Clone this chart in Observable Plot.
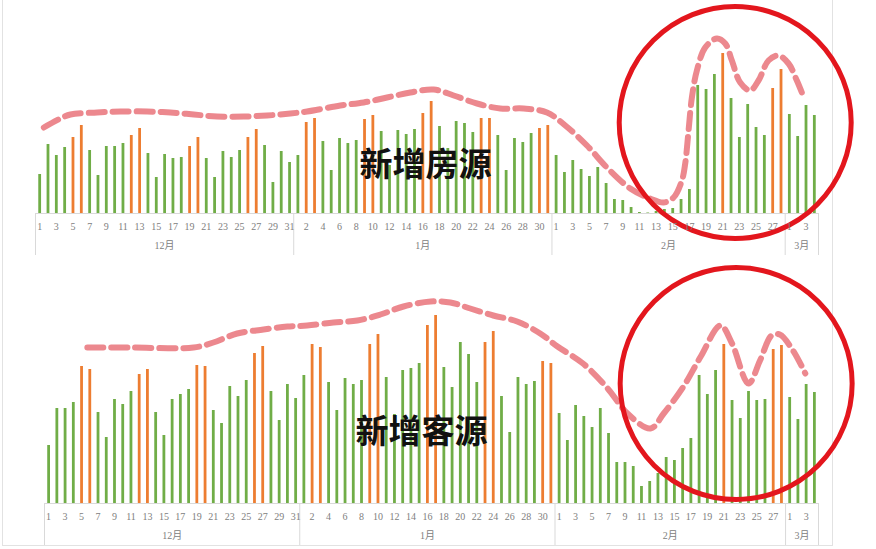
<!DOCTYPE html>
<html><head><meta charset="utf-8">
<script src="https://cdn.jsdelivr.net/npm/d3@7"></script>
<script src="https://cdn.jsdelivr.net/npm/@observablehq/plot@0.6"></script>
<style>
body{margin:0;background:#fff;}
#wrap{position:relative;width:876px;height:549px;overflow:hidden;background:#fff;}
#frame{position:absolute;left:2px;top:-2px;width:831px;height:548px;border:1px solid #e2e2e2;box-sizing:border-box;}
#top,#bottom{position:absolute;left:0;}
#top{top:0}
#bottom{top:265px}
g[aria-label="panel-title"] text{filter:drop-shadow(2px 2px 1.5px rgba(0,0,0,0.45));}
</style></head>
<body><div id="wrap"><div id="frame"></div><div id="top"></div><div id="bottom"></div></div>
<script>
// categories: every day from 1 Dec 2020 to 4 Mar 2021
const startDate = "2020-12-01";
const endDate = "2021-03-04";
const months = ["12月", "1月", "2月", "3月"];
// rest days (orange bars)
const restDays = ["2020-12-05","2020-12-06","2020-12-12","2020-12-13","2020-12-19","2020-12-20","2020-12-26","2020-12-27",
  "2021-01-02","2021-01-03","2021-01-09","2021-01-10","2021-01-16","2021-01-17","2021-01-23","2021-01-24","2021-01-30","2021-01-31",
  "2021-02-21","2021-02-27","2021-02-28"];

// 新增房源 (daily values)
const newListings = [
  39,69,58,66,76,88,63,38,67,67,70,78,85,60,36,59,55,56,67,76,55,36,62,56,63,76,84,68,31,62,51,
  58,91,95,72,43,75,70,73,94,98,82,48,83,79,84,100,112,87,65,92,90,81,95,95,78,43,75,71,80,85,88,
  58,41,53,44,37,46,30,14,13,6,1,0.5,2,4,5,14,24,128,124,139,160,115,76,109,86,78,125,144,
  99,77,108,98];
// 新增客源 (daily values)
const newCustomers = [
  58,95,95,101,137,134,91,66,104,99,112,129,134,91,68,104,109,114,138,137,93,80,117,107,123,150,157,112,83,119,105,
  128,159,156,121,93,125,119,123,159,169,126,89,133,135,140,178,188,136,116,161,149,121,161,172,107,71,126,119,122,142,140,
  90,63,98,87,76,95,70,41,41,37,17,22,30,46,43,55,65,128,109,133,159,103,85,112,103,104,154,158,
  106,84,119,111];

// hand-drawn trend curves (day offset from 1 Dec, value)
const trendListingsDay = [0.5,2.5,3.7,6.9,9.7,12.9,15.7,18.5,21.3,24.5,27.3,30.1,32.1,36.1,38.9,41.7,44.5,47.3,49.7,52.5,55.3,58.1,60.9,63.1,65.7,68.1,70.9,73.3,74.9,76.1,77.1,77.5,77.9,78.3,78.9,79.9,81.3,82.3,83.1,84.1,85.3,86.3,87.5,88.7,89.9,90.9,91.5];
const trendListingsValue = [86,95,99,101,102,102,101,99,97,97,98,100,102,108,111,116,121,124,118,110,105,105,101,88,68,46,25,15,11,16,33,50,83,116,143,166,175,170,153,131,123,133,153,158,150,133,121];
const trendCustomersDay = [4.7,10,17.6,20.0,22.9,26.1,29.0,31.4,34.6,37.5,40.3,43.1,46.4,48.8,51.2,54.0,56.9,59.7,61.8,64.9,67.9,70.3,73.1,74.7,77.1,79.2,81.6,83.0,85.0,86.4,87.8,88.8,90.4,91.9];
const trendCustomersValue = [156,156,156,161,170,174,177,178,181,183,189,197,202,201,195,188,182,170,157,140,115,90,75,90,117,147,178,160,120,143,168,169,153,130];

const titles = ["新增房源", "新增客源"];

const days = d3.utcDays(new Date(startDate), d3.utcDay.offset(new Date(endDate), 1));
const fmt = d3.utcFormat("%Y-%m-%d");
const restSet = new Set(restDays);
const monthStarts = days.map((d, i) => i).filter(i => days[i].getUTCDate() === 1);
const monthBounds = [...monthStarts.map(i => i - 0.5), days.length - 0.5];
const monthData = months.map((m, k) => ({m, x: (monthBounds[k] + monthBounds[k + 1]) / 2}));
const tickIdx = d3.range(0, days.length, 2);

const GREEN = "#70ad47", ORANGE = "#ed7d31";

function panel({values, trendDay, trendValue, title, marginLeft, height, marginBottom, yMax, circleY, dx, dy}) {
  const data = days.map((d, i) => ({i, v: values[i], rest: restSet.has(fmt(d))}));
  const trend = trendDay.map((t, k) => ({t, v: trendValue[k]}));
  const hl = d3.mean([74, 93]);
  return Plot.plot({
    width: 876, height, marginTop: 0, marginBottom, marginLeft, marginRight: 58,
    x: {type: "linear", domain: [-0.5, days.length - 0.5], axis: null},
    y: {domain: [0, yMax], axis: null},
    marks: [
      Plot.ruleY([0], {stroke: "#d9d9d9", strokeWidth: 1}),
      Plot.ruleX(monthBounds, {x: d => d, y1: 0, y2: 0, insetBottom: -42, stroke: "#d9d9d9"}),
      Plot.ruleX(data.filter(d => !d.rest), {x: "i", y1: 0, y2: "v", stroke: GREEN, strokeWidth: 2.8}),
      Plot.ruleX(data.filter(d => d.rest), {x: "i", y1: 0, y2: "v", stroke: ORANGE, strokeWidth: 2.8}),
      Plot.line(trend, {x: "t", y: "v", curve: "catmull-rom", stroke: "#e9737a", strokeOpacity: 0.85, strokeWidth: 6, strokeDasharray: "16,8"}),
      Plot.dot([{x: hl, y: circleY}], {x: "x", y: "y", r: 116, stroke: "#e3161d", strokeWidth: 5, fill: "none"}),
      Plot.text([title], {frameAnchor: "middle", text: d => d, dx, dy, fontSize: 33, fontWeight: "bold", fill: "#111", fontFamily: "Noto Sans CJK SC", ariaLabel: "panel-title"}),
      Plot.text(tickIdx, {x: d => d, y: 0, dy: 13, text: i => days[i].getUTCDate(), fontSize: 10, fill: "#808080", fontFamily: "Liberation Serif", lineAnchor: "middle"}),
      Plot.text(monthData, {x: "x", y: 0, dy: 32, text: "m", fontSize: 10, fill: "#808080", fontFamily: "Liberation Serif, Noto Sans CJK SC", lineAnchor: "middle"})
    ]
  });
}

document.getElementById("top").append(panel({
  values: newListings, trendDay: trendListingsDay, trendValue: trendListingsValue, title: titles[0],
  marginLeft: 35, height: 262, marginBottom: 49, yMax: 213, circleY: 91, dx: -1.5, dy: 58.5
}));
document.getElementById("bottom").append(panel({
  values: newCustomers, trendDay: trendCustomersDay, trendValue: trendCustomersValue, title: titles[1],
  marginLeft: 44, height: 284, marginBottom: 46, yMax: 238, circleY: 120, dx: -10, dy: 48
}));
</script>
</body></html>
